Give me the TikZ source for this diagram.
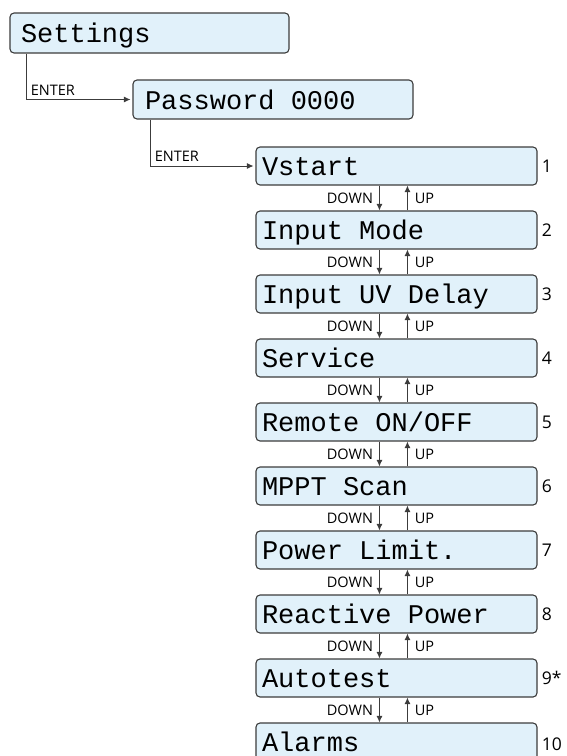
\documentclass[tikz,border=0pt]{standalone}
\usepackage{fontspec}
\setmainfont{Open Sans}
\newfontfamily\lcd{Liberation Mono}
\newcommand\lcdsp{\hspace*{0.6em}}
\usetikzlibrary{arrows.meta}
\definecolor{lcdfill}{HTML}{E1F1FA}
\definecolor{edgegray}{HTML}{3C3C3C}
\tikzset{
  lcdbox/.style={draw=edgegray, line width=1.1pt, fill=lcdfill, rounded corners=4pt,
    font=\lcd\fontsize{27}{27}\selectfont, text height=19pt, text depth=0pt,
    align=left, inner ysep=0pt, anchor=center},
  menubox/.style={lcdbox, inner xsep=6pt, text width=269pt, minimum height=38pt},
  num/.style={font=\fontsize{17.5}{18}\selectfont, anchor=west, inner sep=0pt, text=black},
  lbl/.style={font=\fontsize{14.5}{15}\selectfont, inner sep=0pt, text=black},
  conn/.style={draw=edgegray, line width=0.9pt, -{Latex[length=6.5pt,width=6pt]}},
}
\begin{document}
\begin{tikzpicture}[x=1pt,y=1pt]
\useasboundingbox (0,0) rectangle (566,-756);
\clip (0,0) rectangle (566,-756);

\node[lcdbox, inner xsep=11pt, text width=257pt, minimum height=40pt] (settings) at (149.5,-33) {Settings};
\node[lcdbox, inner xsep=12pt, text width=256pt, minimum height=39pt] (password) at (273,-99.5) {Password\lcdsp 0000};

\node[menubox] (m1) at (396.5,-166) {Vstart};
\node[menubox] (m2) at (396.5,-230) {Input\lcdsp Mode};
\node[menubox] (m3) at (396.5,-294) {Input\lcdsp UV\lcdsp Delay};
\node[menubox] (m4) at (396.5,-358) {Service};
\node[menubox] (m5) at (396.5,-422) {Remote\lcdsp ON/OFF};
\node[menubox] (m6) at (396.5,-486) {MPPT\lcdsp Scan};
\node[menubox] (m7) at (396.5,-550) {Power\lcdsp Limit.};
\node[menubox] (m8) at (396.5,-614) {Reactive\lcdsp Power};
\node[menubox] (m9) at (396.5,-678) {Autotest};
\node[menubox] (m10) at (396.5,-742) {Alarms};

\node[num] (n1) at ([xshift=4pt]m1.east) {1};
\node[num] (n2) at ([xshift=4pt]m2.east) {2};
\node[num] (n3) at ([xshift=4pt]m3.east) {3};
\node[num] (n4) at ([xshift=4pt]m4.east) {4};
\node[num] (n5) at ([xshift=4pt]m5.east) {5};
\node[num] (n6) at ([xshift=4pt]m6.east) {6};
\node[num] (n7) at ([xshift=4pt]m7.east) {7};
\node[num] (n8) at ([xshift=4pt]m8.east) {8};
\node[num] (n9) at ([xshift=4pt]m9.east) {9*};
\node[num] (n10) at ([xshift=4pt,yshift=-2pt]m10.east) {10};

\foreach \i [evaluate=\i as \j using int(\i+1)] in {1,...,9} {
  \draw[conn] ([xshift=124pt]m\i.south west) -- node[lbl, left=6pt] {DOWN} ([xshift=124pt]m\j.north west);
  \draw[conn] ([xshift=152pt]m\j.north west) -- node[lbl, right=7pt] {UP} ([xshift=152pt]m\i.south west);
}

\draw[conn, shorten >=2pt] ([xshift=17pt]settings.south west) |- node[pos=0.5, lbl, anchor=south west, xshift=4pt, yshift=4pt] {ENTER} (password.west);
\draw[conn, shorten >=2pt] ([xshift=18pt]password.south west) |- node[pos=0.5, lbl, anchor=south west, xshift=4pt, yshift=4pt] {ENTER} (m1.west);
\end{tikzpicture}
\end{document}
